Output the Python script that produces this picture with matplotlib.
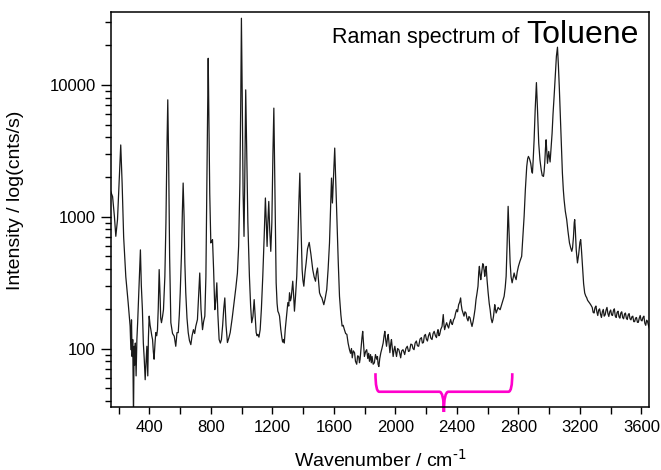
import numpy as np
import matplotlib
matplotlib.use("Agg")
import matplotlib.pyplot as plt
from matplotlib.ticker import MultipleLocator, LogLocator, NullFormatter, FixedLocator
from matplotlib.path import Path
from matplotlib.patches import PathPatch

plt.rcParams['font.family'] = ['Liberation Sans', 'DejaVu Sans']

# Raman spectrum of toluene, read point by point (wavenumber in cm^-1, counts/s)
wavenumber = [
    148, 160, 172, 181, 192, 203, 213, 222, 232, 246, 261, 274, 279, 283, 287, 291, 296, 300, 304, 308,
    313, 318, 323, 330, 336, 341, 347, 354, 360, 366, 372, 378, 383, 389, 393, 398, 404, 409, 415, 420,
    425, 430, 436, 441, 447, 452, 457, 463, 469, 473, 478, 485, 491, 500, 507, 513, 519, 525, 531, 539,
    550, 561, 571, 579, 587, 594, 600, 608, 614, 619, 625, 630, 636, 644, 652, 660, 669, 677, 686, 694,
    701, 712, 719, 727, 735, 745, 752, 760, 767, 773, 778, 782, 787, 792, 799, 805, 810, 817, 825, 831,
    838, 845, 853, 861, 868, 876, 883, 890, 898, 907, 916, 925, 938, 950, 962, 972, 980, 988, 994, 998,
    1003, 1009, 1015, 1020, 1026, 1032, 1040, 1050, 1058, 1065, 1073, 1081, 1088, 1094, 1100, 1105, 1112, 1120, 1128, 1137,
    1146, 1154, 1160, 1165, 1170, 1176, 1182, 1189, 1196, 1203, 1209, 1215, 1224, 1230, 1235, 1241, 1246, 1254, 1261, 1266,
    1272, 1277, 1283, 1292, 1300, 1306, 1311, 1317, 1322, 1332, 1338, 1343, 1350, 1358, 1366, 1372, 1378, 1384, 1393, 1398,
    1404, 1412, 1419, 1428, 1439, 1450, 1462, 1471, 1480, 1487, 1493, 1500, 1506, 1514, 1521, 1534, 1543, 1553, 1562, 1571,
    1578, 1584, 1590, 1597, 1605, 1612, 1621, 1628, 1636, 1645, 1653, 1660, 1668, 1676, 1684, 1692, 1701, 1708, 1714, 1719,
    1726, 1734, 1740, 1748, 1754, 1761, 1766, 1770, 1776, 1782, 1787, 1792, 1798, 1806, 1813, 1820, 1826, 1831, 1838, 1843,
    1848, 1855, 1863, 1870, 1878, 1883, 1887, 1892, 1898, 1905, 1912, 1920, 1926, 1931, 1937, 1942, 1948, 1953, 1959, 1964,
    1970, 1974, 1980, 1985, 1991, 1996, 2001, 2007, 2014, 2022, 2028, 2034, 2041, 2049, 2055, 2060, 2068, 2077, 2085, 2092,
    2100, 2108, 2114, 2121, 2128, 2136, 2143, 2151, 2160, 2169, 2175, 2182, 2188, 2195, 2201, 2208, 2215, 2223, 2230, 2238,
    2245, 2252, 2260, 2267, 2272, 2277, 2283, 2288, 2295, 2303, 2311, 2316, 2320, 2327, 2333, 2340, 2346, 2352, 2359, 2365,
    2370, 2378, 2385, 2391, 2398, 2404, 2411, 2418, 2424, 2428, 2433, 2440, 2446, 2452, 2459, 2465, 2472, 2478, 2485, 2491,
    2498, 2505, 2511, 2518, 2524, 2530, 2537, 2542, 2546, 2551, 2555, 2560, 2564, 2568, 2572, 2577, 2581, 2586, 2590, 2596,
    2603, 2610, 2616, 2622, 2629, 2634, 2638, 2643, 2646, 2650, 2655, 2661, 2668, 2675, 2681, 2688, 2694, 2700, 2707, 2714,
    2720, 2726, 2733, 2740, 2746, 2752, 2759, 2765, 2772, 2778, 2785, 2792, 2800, 2810, 2821, 2829, 2837, 2845, 2854, 2860,
    2865, 2872, 2880, 2887, 2891, 2896, 2902, 2909, 2917, 2924, 2932, 2940, 2948, 2955, 2963, 2967, 2971, 2976, 2980, 2985,
    2989, 2993, 2997, 3002, 3006, 3012, 3019, 3025, 3032, 3040, 3047, 3054, 3060, 3066, 3071, 3078, 3086, 3092, 3097, 3105,
    3114, 3122, 3132, 3140, 3147, 3152, 3158, 3163, 3166, 3170, 3176, 3184, 3192, 3200, 3205, 3210, 3218, 3224, 3231, 3238,
    3244, 3250, 3255, 3262, 3270, 3280, 3286, 3292, 3298, 3304, 3310, 3316, 3322, 3328, 3334, 3340, 3346, 3352, 3358, 3364,
    3370, 3376, 3382, 3388, 3394, 3400, 3406, 3412, 3418, 3424, 3430, 3436, 3442, 3448, 3454, 3460, 3466, 3472, 3478, 3484,
    3490, 3496, 3502, 3508, 3514, 3520, 3526, 3532, 3538, 3544, 3550, 3556, 3562, 3568, 3574, 3580, 3586, 3592, 3598, 3604,
    3610, 3616, 3622, 3628, 3634, 3640, 3646, 3652,
]
intensity = [
    1550, 1420, 1000, 710, 950, 1900, 3500, 1800, 700, 350, 225, 148, 98, 165, 87, 117, 30, 104, 75, 110,
    62, 117, 157, 260, 420, 560, 300, 197, 110, 83, 58, 80, 104, 62, 120, 176, 150, 139, 125, 117,
    95, 83, 110, 132, 125, 139, 200, 397, 250, 170, 157, 175, 197, 350, 900, 3000, 7700, 2500, 500, 157,
    130, 124, 104, 132, 132, 180, 265, 520, 1100, 1800, 1000, 450, 265, 170, 132, 115, 107, 125, 139, 130,
    147, 166, 240, 374, 200, 139, 160, 176, 350, 1500, 6000, 15900, 5000, 1500, 632, 650, 670, 400, 197, 230,
    315, 180, 117, 110, 117, 150, 200, 242, 150, 111, 120, 132, 170, 223, 290, 374, 600, 1800, 8000, 32000,
    9000, 1500, 709, 2000, 9160, 3500, 900, 353, 210, 157, 175, 235, 170, 132, 125, 128, 122, 139, 200, 353,
    700, 1386, 900, 595, 900, 1305, 800, 546, 900, 3000, 6660, 2000, 315, 220, 192, 185, 176, 140, 121, 112,
    117, 110, 139, 180, 223, 210, 265, 230, 243, 324, 250, 192, 250, 353, 700, 1300, 2140, 1000, 397, 330,
    297, 380, 446, 570, 638, 520, 397, 350, 324, 380, 408, 320, 265, 250, 243, 215, 240, 280, 400, 632,
    1200, 1963, 1270, 2000, 3315, 1800, 845, 450, 249, 180, 148, 150, 139, 130, 128, 110, 98, 92, 100, 85,
    96, 93, 80, 76, 88, 87, 78, 83, 100, 120, 135, 110, 87, 95, 98, 84, 92, 80, 90, 78,
    87, 76, 78, 90, 83, 87, 76, 73, 84, 93, 100, 110, 125, 135, 115, 104, 120, 128, 108, 93,
    110, 117, 100, 87, 98, 104, 95, 87, 100, 98, 92, 85, 96, 98, 94, 90, 100, 104, 95, 96,
    108, 107, 100, 98, 110, 114, 105, 104, 118, 121, 110, 111, 125, 128, 118, 114, 125, 132, 120, 117,
    130, 135, 125, 121, 132, 139, 125, 128, 140, 147, 181, 150, 139, 150, 157, 148, 143, 155, 166, 155,
    152, 165, 171, 185, 197, 190, 215, 225, 242, 215, 197, 185, 176, 190, 186, 170, 162, 175, 171, 158,
    147, 160, 176, 200, 235, 260, 297, 380, 420, 360, 333, 370, 397, 440, 432, 390, 353, 400, 420, 330,
    265, 220, 197, 170, 157, 165, 176, 200, 215, 200, 186, 195, 205, 200, 197, 210, 223, 235, 249, 290,
    353, 600, 1198, 700, 446, 350, 315, 340, 374, 350, 333, 380, 420, 460, 500, 700, 1005, 1600, 2400, 2750,
    2865, 2750, 2540, 2200, 2140, 2700, 3830, 6500, 10400, 6500, 3610, 2700, 2270, 2050, 2020, 2200, 2540, 3300, 3830, 3000,
    2540, 2800, 3125, 2800, 2600, 3300, 4300, 6000, 8140, 12000, 16500, 19300, 14000, 9500, 6460, 3800, 2140, 1600, 1345, 1100,
    950, 780, 632, 580, 546, 580, 700, 900, 950, 800, 560, 446, 520, 640, 670, 560, 397, 310, 264, 250,
    243, 232, 228, 222, 215, 205, 188, 186, 204, 210, 190, 178, 196, 200, 182, 172, 190, 198, 176, 180,
    196, 205, 184, 175, 190, 196, 180, 178, 194, 200, 176, 172, 188, 192, 174, 170, 186, 190, 172, 168,
    182, 186, 170, 166, 180, 184, 168, 165, 174, 176, 160, 160, 170, 172, 158, 158, 170, 178, 164, 162,
    172, 176, 156, 150, 164, 160, 150, 142,
]

fig = plt.figure(figsize=(6.61, 4.70), dpi=100)
ax = fig.add_axes([0.168, 0.134, 0.814, 0.8405])

ax.plot(wavenumber, intensity, color='#1a1a1a', lw=0.9)

ax.set_yscale('log')
ax.set_xlim(150, 3650)
ax.set_ylim(36, 35700)

ax.xaxis.set_major_locator(MultipleLocator(400))
ax.xaxis.set_minor_locator(MultipleLocator(200))
ax.yaxis.set_major_locator(FixedLocator([100, 1000, 10000]))
ax.set_yticklabels(['100', '1000', '10000'])
ax.yaxis.set_minor_locator(LogLocator(base=10, subs=np.arange(2, 10)))
ax.yaxis.set_minor_formatter(NullFormatter())

ax.tick_params(which='both', direction='out', top=False, right=False, labelsize=12, width=1.0, pad=4)
ax.tick_params(axis='x', which='major', length=5)
ax.tick_params(axis='x', which='minor', length=5)
ax.tick_params(axis='y', which='major', length=7)
ax.tick_params(axis='y', which='minor', length=4)
for s in ax.spines.values():
    s.set_linewidth(1.1)

ax.set_xlabel(r'Wavenumber / cm$^{\text{-1}}$', fontsize=14)
ax.set_ylabel('Intensity / log(cnts/s)', fontsize=14)
ax.xaxis.set_label_coords(0.5, -0.105)
ax.yaxis.set_label_coords(-0.162, 0.524)

ax.text(0.9796, 0.9215, 'Toluene', transform=ax.transAxes, ha='right', va='baseline', fontsize=23)
ax.text(0.759, 0.9215, 'Raman spectrum of', transform=ax.transAxes, ha='right', va='baseline', fontsize=15.5)

# curly bracket under the 1870-2760 cm^-1 window
x0, x1 = 1870, 2760
xm = (x0 + x1) / 2
verts = [
    (x0, 65), (x0, 47), (x0 + 25, 47),
    (xm - 30, 47), (xm, 47), (xm, 33),
    (xm, 47), (xm + 30, 47),
    (x1 - 25, 47), (x1, 47), (x1, 65),
]
codes = [Path.MOVETO, Path.CURVE3, Path.CURVE3,
         Path.LINETO, Path.CURVE3, Path.CURVE3,
         Path.CURVE3, Path.CURVE3,
         Path.LINETO, Path.CURVE3, Path.CURVE3]
brace = PathPatch(Path(verts, codes), transform=ax.transData, fill=False,
                  edgecolor='#ff00cc', lw=1.9, clip_on=False, capstyle='butt')
ax.add_patch(brace)

fig.savefig('out.png', dpi=100)
